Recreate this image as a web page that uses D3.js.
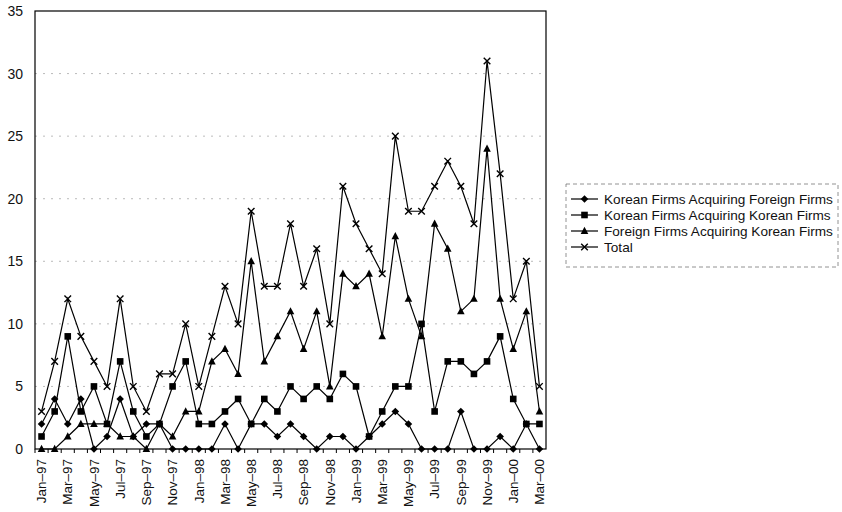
<html>
<head>
<style>
  body { margin: 0; background: white; font-family: "Liberation Sans", Arial, sans-serif; }
</style>
<script src="https://d3js.org/d3.v7.min.js"></script>
</head>
<body>
<svg id="chart"></svg>
<script>
  let months = ["Jan-97","Feb-97","Mar-97","Apr-97","May-97","Jun-97","Jul-97","Aug-97","Sep-97","Oct-97","Nov-97","Dec-97",
    "Jan-98","Feb-98","Mar-98","Apr-98","May-98","Jun-98","Jul-98","Aug-98","Sep-98","Oct-98","Nov-98","Dec-98",
    "Jan-99","Feb-99","Mar-99","Apr-99","May-99","Jun-99","Jul-99","Aug-99","Sep-99","Oct-99","Nov-99","Dec-99",
    "Jan-00","Feb-00","Mar-00"]

  let korAcqForeign = [2,4,2,4,0,1,4,1,2,2,0,0, 0,0,2,0,2,2,1,2,1,0,1,1, 0,1,2,3,2,0,0,0,3,0,0,1, 0,2,0]
  let korAcqKorean  = [1,3,9,3,5,2,7,3,1,2,5,7, 2,2,3,4,2,4,3,5,4,5,4,6, 5,1,3,5,5,10,3,7,7,6,7,9, 4,2,2]
  let forAcqKorean  = [0,0,1,2,2,2,1,1,0,2,1,3, 3,7,8,6,15,7,9,11,8,11,5,14, 13,14,9,17,12,9,18,16,11,12,24,12, 8,11,3]
  let total         = [3,7,12,9,7,5,12,5,3,6,6,10, 5,9,13,10,19,13,13,18,13,16,10,21, 18,16,14,25,19,19,21,23,21,18,31,22, 12,15,5]

  let yTicks = [0,5,10,15,20,25,30,35]

  let series = [
    {name: "Korean Firms Acquiring Foreign Firms", values: korAcqForeign, marker: "diamond"},
    {name: "Korean Firms Acquiring Korean Firms", values: korAcqKorean, marker: "square"},
    {name: "Foreign Firms Acquiring Korean Firms", values: forAcqKorean, marker: "triangle"},
    {name: "Total", values: total, marker: "cross"}
  ]

  let width = 842, height = 512
  let margin = {top: 11, left: 35, right: 296, bottom: 63}
  let plotRight = width - margin.right
  let plotBottom = height - margin.bottom

  let svg = d3.select("#chart").attr("width", width).attr("height", height)

  let x = d3.scaleBand().domain(months).range([margin.left, plotRight]).padding(0)
  let cx = d => x(d) + x.bandwidth() / 2
  let y = d3.scaleLinear().domain([0, 35]).range([plotBottom, margin.top])

  // dotted gridlines
  svg.append("g").selectAll("line")
    .data(yTicks.filter(t => t > 0 && t < 35))
    .enter().append("line")
    .attr("x1", margin.left).attr("x2", plotRight)
    .attr("y1", d => y(d)).attr("y2", d => y(d))
    .attr("stroke", "#aaa").attr("stroke-width", 0.8)
    .attr("stroke-dasharray", "2,6")

  // frame
  svg.append("rect")
    .attr("x", margin.left).attr("y", margin.top)
    .attr("width", plotRight - margin.left).attr("height", plotBottom - margin.top)
    .attr("fill", "none").attr("stroke", "black").attr("stroke-width", 1.2)

  // y axis
  let yAxis = d3.axisLeft(y).tickValues(yTicks).tickSize(0).tickPadding(12)
  let gy = svg.append("g").attr("transform", `translate(${margin.left},0)`).call(yAxis)
  gy.select(".domain").remove()
  gy.selectAll("text").attr("font-size", 14).attr("font-family", "Liberation Sans, Arial, sans-serif").attr("fill", "#111")

  // x axis, every other month labelled
  let xAxis = d3.axisBottom(x).tickSize(0).tickPadding(0)
    .tickFormat((d, i) => i % 2 === 0 ? d.replace("-", "\u2013") : "")
  let gx = svg.append("g").attr("transform", `translate(0,${plotBottom})`).call(xAxis)
  gx.select(".domain").remove()
  gx.selectAll("text")
    .attr("font-size", 13.5).attr("font-family", "Liberation Sans, Arial, sans-serif").attr("fill", "#111")
    .attr("transform", "rotate(-90)")
    .attr("text-anchor", "end")
    .attr("x", -10).attr("y", 0).attr("dy", "0.35em")
  // tick marks at category boundaries
  svg.append("g").selectAll("line")
    .data(months)
    .enter().append("line")
    .attr("x1", d => x(d)).attr("x2", d => x(d))
    .attr("y1", plotBottom).attr("y2", plotBottom + 4)
    .attr("stroke", "black").attr("stroke-width", 1)

  function drawMarker(g, type, px, py) {
    if (type === "diamond") {
      g.append("path").attr("d", `M${px},${py-3.8}L${px+3.8},${py}L${px},${py+3.8}L${px-3.8},${py}Z`).attr("fill", "black")
    } else if (type === "square") {
      g.append("rect").attr("x", px - 3.3).attr("y", py - 3.3).attr("width", 6.6).attr("height", 6.6).attr("fill", "black")
    } else if (type === "triangle") {
      g.append("path").attr("d", `M${px},${py-4.2}L${px+3.8},${py+3}L${px-3.8},${py+3}Z`).attr("fill", "black")
    } else {
      g.append("path").attr("d", `M${px-3.3},${py-3.3}L${px+3.3},${py+3.3}M${px+3.3},${py-3.3}L${px-3.3},${py+3.3}`)
        .attr("stroke", "black").attr("stroke-width", 1.4)
    }
  }

  let line = d3.line().x((d, i) => cx(months[i])).y(d => y(d))

  series.forEach(s => {
    let g = svg.append("g")
    g.append("path").attr("d", line(s.values))
      .attr("fill", "none").attr("stroke", "black").attr("stroke-width", 1.2)
    s.values.forEach((v, i) => drawMarker(g, s.marker, cx(months[i]), y(v)))
  })

  // legend
  let lg = svg.append("g").attr("transform", "translate(566,184)")
  lg.append("rect").attr("x", 0).attr("y", 0).attr("width", 272).attr("height", 83)
    .attr("fill", "white").attr("stroke", "#777").attr("stroke-width", 0.8).attr("stroke-dasharray", "4,3")
  series.forEach((s, i) => {
    let yy = 15 + i * 16
    lg.append("line").attr("x1", 5).attr("x2", 32).attr("y1", yy).attr("y2", yy)
      .attr("stroke", "black").attr("stroke-width", 1.2)
    drawMarker(lg, s.marker, 18.5, yy)
    lg.append("text").attr("x", 38).attr("y", yy).attr("dy", "0.35em")
      .attr("font-size", 13.6).attr("fill", "#111").text(s.name)
  })
</script>
</body>
</html>
